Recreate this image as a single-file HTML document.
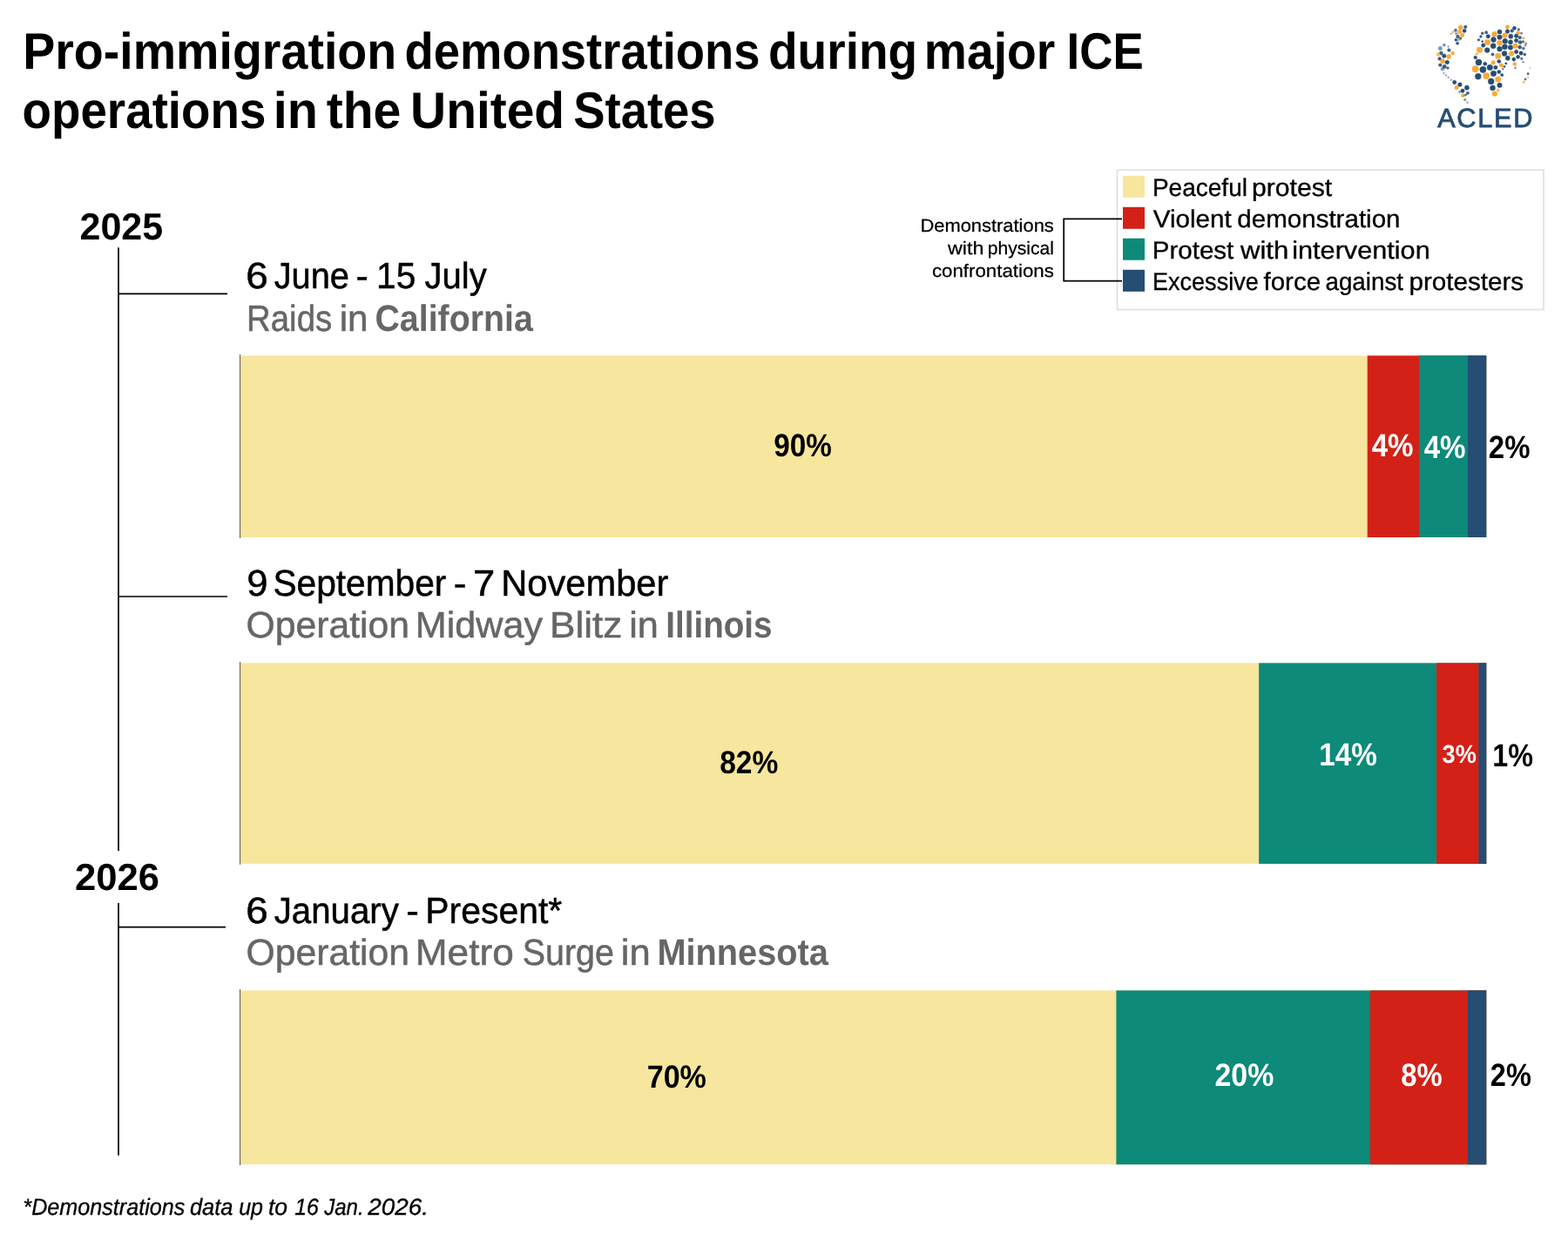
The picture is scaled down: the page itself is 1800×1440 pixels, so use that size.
<!DOCTYPE html>
<html lang="en">
<head>
<meta charset="utf-8">
<title>Pro-immigration demonstrations during major ICE operations in the United States</title>
<style>
html,body{margin:0;padding:0;background:#fff;}
body{width:1800px;height:1440px;position:relative;overflow:hidden;font-family:"Liberation Sans",sans-serif;color:#000;text-rendering:geometricPrecision;}
.t{position:absolute;white-space:nowrap;transform-origin:0 0;margin:0;}
.ln{position:absolute;left:0;width:1800px;white-space:nowrap;}
.ln .t{top:0;}
.r{position:absolute;}
svg{position:absolute;left:0;top:0;}
</style>
</head>
<body>
<svg width="1800" height="1440" viewBox="0 0 1800 1440" fill="none">
<!-- stacked bars -->
<rect x="276.0" y="408.4" width="1430.2" height="208.6" fill="#f7e69d"/>
<rect x="1569.7" y="408.4" width="136.5" height="208.6" fill="#d32118"/>
<rect x="1628.9" y="408.4" width="77.3" height="208.6" fill="#0d8a79"/>
<rect x="1685.0" y="408.4" width="21.2" height="208.6" fill="#264d73"/>
<rect x="276.0" y="761.4" width="1430.2" height="230.5" fill="#f7e69d"/>
<rect x="1445.1" y="761.4" width="261.1" height="230.5" fill="#0d8a79"/>
<rect x="1649.0" y="761.4" width="57.2" height="230.5" fill="#d32118"/>
<rect x="1697.4" y="761.4" width="8.8" height="230.5" fill="#264d73"/>
<rect x="276.0" y="1137.4" width="1430.2" height="199.8" fill="#f7e69d"/>
<rect x="1281.4" y="1137.4" width="424.8" height="199.8" fill="#0d8a79"/>
<rect x="1572.9" y="1137.4" width="133.3" height="199.8" fill="#d32118"/>
<rect x="1684.9" y="1137.4" width="21.3" height="199.8" fill="#264d73"/>
<!-- legend box and swatches -->
<rect x="1282.6" y="195.2" width="489.4" height="160.3" stroke="#e2e2e2" stroke-width="1.8"/>
<rect x="1289" y="201.8" width="25" height="25" fill="#f7e69d"/>
<rect x="1289" y="237.8" width="25" height="25" fill="#d32118"/>
<rect x="1289" y="273.7" width="25" height="25" fill="#0d8a79"/>
<rect x="1289" y="309.8" width="25" height="25" fill="#264d73"/>
<!-- bar axes -->
<g stroke="#555" stroke-width="1">
<line x1="275.6" y1="407.0" x2="275.6" y2="618.0"/>
<line x1="275.6" y1="760.0" x2="275.6" y2="992.9"/>
<line x1="275.6" y1="1136.0" x2="275.6" y2="1338.2"/>
</g>
<!-- timeline and bracket -->
<g stroke="#000" stroke-width="1.7">
<line x1="136" y1="284.3" x2="136" y2="977.3"/>
<line x1="136" y1="1037" x2="136" y2="1326.7"/>
<line x1="136" y1="337.3" x2="261" y2="337.3"/>
<line x1="136" y1="685" x2="261" y2="685"/>
<line x1="136" y1="1064.7" x2="259" y2="1064.7"/>
<polyline points="1288,251.3 1221.2,251.3 1221.2,322.6 1288,322.6"/>
</g>
</svg>
<svg width="1800" height="1440" viewBox="0 0 1800 1440" aria-label="ACLED logo">
<g stroke-width="1" stroke-opacity="0.4">
<circle cx="1676.6" cy="31.6" r="2.58" fill="#f9a938" stroke="#f9a938"/>
<circle cx="1682.2" cy="30.9" r="1.89" fill="#264d73" stroke="#264d73" opacity="0.9"/>
<circle cx="1681.1" cy="35.4" r="2.09" fill="#264d73" stroke="#264d73"/>
<circle cx="1671.0" cy="34.7" r="1.68" fill="#264d73" stroke="#264d73" opacity="0.8"/>
<circle cx="1675.6" cy="36.5" r="2.23" fill="#f9a938" stroke="#f9a938"/>
<circle cx="1667.9" cy="36.8" r="1.19" fill="#f9a938" stroke="#f9a938" opacity="0.9"/>
<circle cx="1665.8" cy="38.9" r="0.84" fill="#264d73" stroke="#264d73" opacity="0.5"/>
<circle cx="1678.7" cy="40.3" r="2.37" fill="#f9a938" stroke="#f9a938"/>
<circle cx="1671.7" cy="38.5" r="1.54" fill="#264d73" stroke="#264d73" opacity="0.5"/>
<circle cx="1673.5" cy="42.0" r="1.89" fill="#264d73" stroke="#264d73" opacity="0.9"/>
<circle cx="1676.6" cy="44.1" r="1.40" fill="#264d73" stroke="#264d73" opacity="0.9"/>
<circle cx="1671.4" cy="45.8" r="1.54" fill="#264d73" stroke="#264d73"/>
<circle cx="1674.5" cy="45.8" r="1.19" fill="#264d73" stroke="#264d73" opacity="0.5"/>
<circle cx="1673.1" cy="49.7" r="1.68" fill="#264d73" stroke="#264d73" opacity="0.9"/>
<circle cx="1657.8" cy="51.7" r="1.68" fill="#264d73" stroke="#264d73" opacity="0.6"/>
<circle cx="1653.3" cy="55.6" r="2.23" fill="#264d73" stroke="#264d73" opacity="0.6"/>
<circle cx="1662.7" cy="53.5" r="1.19" fill="#264d73" stroke="#264d73" opacity="0.4"/>
<circle cx="1663.4" cy="57.6" r="1.89" fill="#264d73" stroke="#264d73" opacity="0.9"/>
<circle cx="1667.6" cy="61.1" r="2.09" fill="#f9a938" stroke="#f9a938"/>
<circle cx="1654.4" cy="61.1" r="2.09" fill="#264d73" stroke="#264d73" opacity="0.9"/>
<circle cx="1650.9" cy="62.5" r="1.89" fill="#f9a938" stroke="#f9a938" opacity="0.8"/>
<circle cx="1657.8" cy="64.2" r="2.23" fill="#264d73" stroke="#264d73"/>
<circle cx="1663.1" cy="64.9" r="2.58" fill="#f9a938" stroke="#f9a938"/>
<circle cx="1652.6" cy="67.4" r="1.89" fill="#264d73" stroke="#264d73" opacity="0.9"/>
<circle cx="1656.1" cy="70.1" r="2.58" fill="#f9a938" stroke="#f9a938"/>
<circle cx="1661.3" cy="71.5" r="2.37" fill="#264d73" stroke="#264d73"/>
<circle cx="1653.3" cy="74.7" r="1.89" fill="#264d73" stroke="#264d73" opacity="0.9"/>
<circle cx="1658.2" cy="76.4" r="2.23" fill="#264d73" stroke="#264d73" opacity="0.9"/>
<circle cx="1662.0" cy="78.1" r="1.40" fill="#264d73" stroke="#264d73" opacity="0.9"/>
<circle cx="1655.8" cy="79.2" r="1.89" fill="#264d73" stroke="#264d73" opacity="0.6"/>
<circle cx="1657.5" cy="84.0" r="0.98" fill="#264d73" stroke="#264d73" opacity="0.5"/>
<circle cx="1659.9" cy="86.5" r="0.98" fill="#264d73" stroke="#264d73" opacity="0.5"/>
<circle cx="1662.7" cy="88.9" r="0.98" fill="#264d73" stroke="#264d73" opacity="0.5"/>
<circle cx="1665.8" cy="91.7" r="0.98" fill="#264d73" stroke="#264d73" opacity="0.5"/>
<circle cx="1669.7" cy="94.4" r="2.23" fill="#264d73" stroke="#264d73"/>
<circle cx="1675.9" cy="97.2" r="2.37" fill="#264d73" stroke="#264d73"/>
<circle cx="1672.1" cy="100.7" r="2.37" fill="#f9a938" stroke="#f9a938"/>
<circle cx="1683.9" cy="100.7" r="2.58" fill="#264d73" stroke="#264d73"/>
<circle cx="1679.0" cy="104.2" r="2.23" fill="#264d73" stroke="#264d73"/>
<circle cx="1684.9" cy="106.9" r="1.68" fill="#264d73" stroke="#264d73" opacity="0.9"/>
<circle cx="1675.6" cy="105.6" r="1.19" fill="#264d73" stroke="#264d73" opacity="0.6"/>
<circle cx="1679.4" cy="109.7" r="2.09" fill="#f9a938" stroke="#f9a938"/>
<circle cx="1682.5" cy="109.0" r="1.19" fill="#264d73" stroke="#264d73" opacity="0.8"/>
<circle cx="1681.8" cy="114.6" r="1.40" fill="#264d73" stroke="#264d73" opacity="0.6"/>
<circle cx="1684.6" cy="117.7" r="1.19" fill="#264d73" stroke="#264d73" opacity="0.4"/>
<circle cx="1730.5" cy="30.9" r="2.23" fill="#f9a938" stroke="#f9a938"/>
<circle cx="1738.5" cy="32.3" r="2.09" fill="#264d73" stroke="#264d73"/>
<circle cx="1743.3" cy="34.0" r="1.40" fill="#264d73" stroke="#264d73" opacity="0.8"/>
<circle cx="1706.2" cy="37.2" r="1.68" fill="#264d73" stroke="#264d73" opacity="0.9"/>
<circle cx="1701.7" cy="38.2" r="1.54" fill="#264d73" stroke="#264d73" opacity="0.9"/>
<circle cx="1721.5" cy="36.5" r="2.58" fill="#264d73" stroke="#264d73"/>
<circle cx="1730.5" cy="36.1" r="2.37" fill="#264d73" stroke="#264d73"/>
<circle cx="1735.7" cy="35.4" r="1.89" fill="#264d73" stroke="#264d73" opacity="0.9"/>
<circle cx="1742.6" cy="37.8" r="2.09" fill="#f9a938" stroke="#f9a938"/>
<circle cx="1746.5" cy="38.2" r="1.19" fill="#264d73" stroke="#264d73" opacity="0.7"/>
<circle cx="1715.6" cy="39.2" r="3.07" fill="#f9a938" stroke="#f9a938"/>
<circle cx="1727.4" cy="40.6" r="2.93" fill="#f9a938" stroke="#f9a938"/>
<circle cx="1708.3" cy="41.7" r="2.23" fill="#264d73" stroke="#264d73"/>
<circle cx="1699.9" cy="42.0" r="1.40" fill="#264d73" stroke="#264d73" opacity="0.9"/>
<circle cx="1721.5" cy="42.7" r="2.79" fill="#264d73" stroke="#264d73"/>
<circle cx="1734.3" cy="41.7" r="2.58" fill="#264d73" stroke="#264d73"/>
<circle cx="1740.6" cy="41.3" r="2.23" fill="#264d73" stroke="#264d73"/>
<circle cx="1744.7" cy="43.1" r="1.89" fill="#264d73" stroke="#264d73" opacity="0.9"/>
<circle cx="1748.9" cy="43.8" r="1.40" fill="#f9a938" stroke="#f9a938" opacity="0.9"/>
<circle cx="1697.5" cy="45.8" r="1.40" fill="#264d73" stroke="#264d73" opacity="0.9"/>
<circle cx="1701.7" cy="47.6" r="1.19" fill="#264d73" stroke="#264d73" opacity="0.9"/>
<circle cx="1714.5" cy="45.5" r="2.93" fill="#264d73" stroke="#264d73"/>
<circle cx="1707.6" cy="48.6" r="3.27" fill="#f9a938" stroke="#f9a938"/>
<circle cx="1727.7" cy="47.2" r="2.93" fill="#264d73" stroke="#264d73"/>
<circle cx="1721.5" cy="49.3" r="3.07" fill="#f9a938" stroke="#f9a938"/>
<circle cx="1734.0" cy="48.3" r="2.58" fill="#264d73" stroke="#264d73"/>
<circle cx="1740.6" cy="46.5" r="2.23" fill="#264d73" stroke="#264d73"/>
<circle cx="1745.1" cy="48.6" r="2.09" fill="#264d73" stroke="#264d73" opacity="0.9"/>
<circle cx="1748.5" cy="47.9" r="1.40" fill="#264d73" stroke="#264d73" opacity="0.8"/>
<circle cx="1751.7" cy="50.0" r="1.19" fill="#264d73" stroke="#264d73" opacity="0.6"/>
<circle cx="1702.7" cy="52.1" r="2.23" fill="#264d73" stroke="#264d73"/>
<circle cx="1714.2" cy="52.8" r="3.07" fill="#264d73" stroke="#264d73"/>
<circle cx="1727.4" cy="53.8" r="3.07" fill="#264d73" stroke="#264d73"/>
<circle cx="1734.0" cy="54.5" r="2.79" fill="#264d73" stroke="#264d73"/>
<circle cx="1739.5" cy="52.8" r="2.93" fill="#f9a938" stroke="#f9a938"/>
<circle cx="1744.7" cy="54.2" r="2.09" fill="#264d73" stroke="#264d73" opacity="0.9"/>
<circle cx="1748.9" cy="55.6" r="1.54" fill="#264d73" stroke="#264d73" opacity="0.8"/>
<circle cx="1751.0" cy="52.1" r="1.19" fill="#264d73" stroke="#264d73" opacity="0.6"/>
<circle cx="1698.5" cy="57.3" r="3.27" fill="#f9a938" stroke="#f9a938"/>
<circle cx="1707.2" cy="57.6" r="2.93" fill="#264d73" stroke="#264d73"/>
<circle cx="1721.5" cy="56.2" r="2.93" fill="#264d73" stroke="#264d73"/>
<circle cx="1727.0" cy="61.5" r="2.93" fill="#264d73" stroke="#264d73"/>
<circle cx="1735.0" cy="61.5" r="2.93" fill="#f9a938" stroke="#f9a938"/>
<circle cx="1740.6" cy="59.4" r="2.23" fill="#264d73" stroke="#264d73"/>
<circle cx="1746.1" cy="61.1" r="2.23" fill="#264d73" stroke="#264d73"/>
<circle cx="1750.3" cy="62.5" r="1.54" fill="#264d73" stroke="#264d73" opacity="0.9"/>
<circle cx="1695.4" cy="61.8" r="1.40" fill="#f9a938" stroke="#f9a938" opacity="0.9"/>
<circle cx="1713.5" cy="62.5" r="1.68" fill="#264d73" stroke="#264d73" opacity="0.9"/>
<circle cx="1719.7" cy="64.2" r="3.27" fill="#f9a938" stroke="#f9a938"/>
<circle cx="1693.7" cy="66.0" r="1.89" fill="#264d73" stroke="#264d73"/>
<circle cx="1730.8" cy="66.7" r="2.58" fill="#264d73" stroke="#264d73"/>
<circle cx="1737.8" cy="68.1" r="2.09" fill="#264d73" stroke="#264d73"/>
<circle cx="1742.6" cy="65.3" r="2.09" fill="#264d73" stroke="#264d73"/>
<circle cx="1746.8" cy="67.4" r="1.40" fill="#264d73" stroke="#264d73" opacity="0.8"/>
<circle cx="1697.5" cy="71.5" r="3.62" fill="#264d73" stroke="#264d73"/>
<circle cx="1720.8" cy="70.5" r="2.09" fill="#264d73" stroke="#264d73"/>
<circle cx="1714.2" cy="71.9" r="2.37" fill="#f9a938" stroke="#f9a938"/>
<circle cx="1704.8" cy="73.3" r="2.09" fill="#264d73" stroke="#264d73"/>
<circle cx="1728.8" cy="72.9" r="1.19" fill="#264d73" stroke="#264d73"/>
<circle cx="1748.5" cy="71.2" r="0.98" fill="#264d73" stroke="#264d73" opacity="0.7"/>
<circle cx="1738.8" cy="73.6" r="2.09" fill="#f9a938" stroke="#f9a938"/>
<circle cx="1723.5" cy="75.0" r="2.23" fill="#f9a938" stroke="#f9a938"/>
<circle cx="1727.0" cy="76.4" r="1.19" fill="#264d73" stroke="#264d73" opacity="0.9"/>
<circle cx="1710.3" cy="77.4" r="3.27" fill="#264d73" stroke="#264d73"/>
<circle cx="1716.9" cy="77.4" r="2.23" fill="#264d73" stroke="#264d73"/>
<circle cx="1693.7" cy="79.2" r="3.76" fill="#f9a938" stroke="#f9a938"/>
<circle cx="1702.4" cy="79.9" r="3.62" fill="#264d73" stroke="#264d73"/>
<circle cx="1739.5" cy="78.1" r="0.98" fill="#264d73" stroke="#264d73" opacity="0.7"/>
<circle cx="1725.3" cy="79.2" r="0.98" fill="#264d73" stroke="#264d73" opacity="0.8"/>
<circle cx="1720.8" cy="82.6" r="2.09" fill="#264d73" stroke="#264d73"/>
<circle cx="1714.5" cy="84.4" r="3.27" fill="#264d73" stroke="#264d73"/>
<circle cx="1724.2" cy="86.1" r="1.68" fill="#264d73" stroke="#264d73"/>
<circle cx="1696.8" cy="87.8" r="3.48" fill="#264d73" stroke="#264d73"/>
<circle cx="1706.2" cy="87.2" r="3.62" fill="#f9a938" stroke="#f9a938"/>
<circle cx="1719.7" cy="91.0" r="3.27" fill="#f9a938" stroke="#f9a938"/>
<circle cx="1711.7" cy="93.4" r="3.48" fill="#264d73" stroke="#264d73"/>
<circle cx="1721.5" cy="97.9" r="2.79" fill="#264d73" stroke="#264d73"/>
<circle cx="1713.5" cy="101.0" r="3.07" fill="#264d73" stroke="#264d73"/>
<circle cx="1719.7" cy="103.5" r="1.54" fill="#f9a938" stroke="#f9a938" opacity="0.9"/>
<circle cx="1715.9" cy="107.6" r="2.93" fill="#f9a938" stroke="#f9a938"/>
<circle cx="1756.5" cy="78.1" r="0.98" fill="#f9a938" stroke="#f9a938" opacity="0.6"/>
<circle cx="1754.1" cy="84.7" r="1.19" fill="#264d73" stroke="#264d73" opacity="0.9"/>
<circle cx="1754.1" cy="88.9" r="0.98" fill="#f9a938" stroke="#f9a938" opacity="0.8"/>
<circle cx="1751.0" cy="91.0" r="1.19" fill="#264d73" stroke="#264d73" opacity="0.8"/>
<circle cx="1749.2" cy="94.4" r="1.19" fill="#f9a938" stroke="#f9a938" opacity="0.9"/>
</g>
</svg>
<div class="ln" style="top:24.09px;font-size:58.95px;line-height:71px;font-weight:700;"><span class="t" style="left:26px;transform:translateX(0.19px) scaleX(0.9425);">Pro-immigration</span> <span class="t" style="left:464px;transform:translateX(0.62px) scaleX(0.9227);">demonstrations</span> <span class="t" style="left:881px;transform:translateX(1.00px) scaleX(0.9337);">during</span> <span class="t" style="left:1060px;transform:translateX(0.81px) scaleX(0.9376);">major</span> <span class="t" style="left:1224px;transform:translateX(0.57px) scaleX(0.8964);">ICE</span></div>
<div class="ln" style="top:92.39px;font-size:58.95px;line-height:71px;font-weight:700;"><span class="t" style="left:25px;transform:translateX(0.51px) scaleX(0.9291);">operations</span> <span class="t" style="left:313px;transform:translateX(0.67px) scaleX(0.9774);">in</span> <span class="t" style="left:374px;transform:translateX(0.73px) scaleX(0.9688);">the</span> <span class="t" style="left:471px;transform:translateX(0.08px) scaleX(0.9655);">United</span> <span class="t" style="left:658px;transform:translateX(0.17px) scaleX(0.9240);">States</span></div>
<div class="t" style="left:91px;top:235.31px;font-size:43.29px;line-height:52px;font-weight:700;transform:translateX(0.49px) scaleX(0.9946);">2025</div>
<div class="t" style="left:86px;top:982.41px;font-size:43.29px;line-height:52px;font-weight:700;transform:translateX(0.07px) scaleX(1.0076);">2026</div>
<div class="ln" style="top:290.90px;font-size:42.16px;line-height:51px;-webkit-text-stroke:0.012em #000;"><span class="t" style="left:282px;transform:translateX(0.19px) scaleX(1.0855);">6</span> <span class="t" style="left:314px;transform:translateX(0.64px) scaleX(0.9445);">June</span> <span class="t" style="left:408px;transform:translateX(0.53px) scaleX(1.0152);">-</span> <span class="t" style="left:432px;transform:translateX(0.10px) scaleX(0.9634);">15</span> <span class="t" style="left:487px;transform:translateX(0.44px) scaleX(0.9504);">July</span></div>
<div class="ln" style="top:339.60px;font-size:42.16px;line-height:51px;color:#666666;-webkit-text-stroke:0.012em #666666;"><span class="t" style="left:283px;transform:translateX(0.06px) scaleX(0.9103);">Raids</span> <span class="t" style="left:389px;transform:translateX(0.70px) scaleX(1.0032);">in</span></div>
<div class="t" style="left:430px;top:341.47px;font-size:42.53px;line-height:51px;font-weight:700;color:#666666;transform:translateX(0.43px) scaleX(0.9251);">California</div>
<div class="ln" style="top:643.60px;font-size:42.16px;line-height:51px;-webkit-text-stroke:0.012em #000;"><span class="t" style="left:283px;transform:translateX(0.30px) scaleX(1.0343);">9</span> <span class="t" style="left:313px;transform:translateX(0.41px) scaleX(0.9650);">September</span> <span class="t" style="left:520px;transform:translateX(0.79px) scaleX(1.0429);">-</span> <span class="t" style="left:543px;transform:translateX(0.10px) scaleX(1.0768);">7</span> <span class="t" style="left:575px;transform:translateX(0.22px) scaleX(0.9882);">November</span></div>
<div class="ln" style="top:691.70px;font-size:42.16px;line-height:51px;color:#666666;-webkit-text-stroke:0.012em #666666;"><span class="t" style="left:282px;transform:translateX(0.53px) scaleX(1.0130);">Operation</span> <span class="t" style="left:476px;transform:translateX(0.81px) scaleX(1.0226);">Midway</span> <span class="t" style="left:630px;transform:translateX(0.93px) scaleX(1.0481);">Blitz</span> <span class="t" style="left:722px;transform:translateX(0.14px) scaleX(1.0283);">in</span></div>
<div class="t" style="left:764px;top:692.57px;font-size:42.53px;line-height:51px;font-weight:700;color:#666666;transform:translateX(0.19px) scaleX(0.9090);">Illinois</div>
<div class="ln" style="top:1019.90px;font-size:42.16px;line-height:51px;-webkit-text-stroke:0.012em #000;"><span class="t" style="left:282px;transform:translateX(0.19px) scaleX(1.0855);">6</span> <span class="t" style="left:314px;transform:translateX(0.64px) scaleX(0.9549);">January</span> <span class="t" style="left:466px;transform:translateX(0.30px) scaleX(1.0337);">-</span> <span class="t" style="left:488px;transform:translateX(0.27px) scaleX(0.9704);">Present*</span></div>
<div class="ln" style="top:1068.40px;font-size:42.16px;line-height:51px;color:#666666;-webkit-text-stroke:0.012em #666666;"><span class="t" style="left:282px;transform:translateX(0.53px) scaleX(1.0130);">Operation</span> <span class="t" style="left:476px;transform:translateX(0.73px) scaleX(1.0488);">Metro</span> <span class="t" style="left:599px;transform:translateX(0.77px) scaleX(0.9334);">Surge</span> <span class="t" style="left:712px;transform:translateX(0.72px) scaleX(1.0355);">in</span></div>
<div class="t" style="left:754px;top:1069.27px;font-size:42.53px;line-height:51px;font-weight:700;color:#666666;transform:translateX(0.42px) scaleX(0.9347);">Minnesota</div>
<div class="t" style="left:888px;top:490.44px;font-size:36.86px;line-height:44px;font-weight:700;transform:translateX(0.24px) scaleX(0.9020);">90%</div>
<div class="t" style="left:1574px;top:490.14px;font-size:36.86px;line-height:44px;font-weight:700;color:#fff;transform:translateX(0.70px) scaleX(0.8979);">4%</div>
<div class="t" style="left:1634px;top:491.74px;font-size:36.86px;line-height:44px;font-weight:700;color:#fff;transform:translateX(0.70px) scaleX(0.8979);">4%</div>
<div class="t" style="left:1708px;top:491.84px;font-size:36.86px;line-height:44px;font-weight:700;transform:translateX(0.85px) scaleX(0.8932);">2%</div>
<div class="t" style="left:826px;top:853.74px;font-size:36.86px;line-height:44px;font-weight:700;transform:translateX(0.19px) scaleX(0.9108);">82%</div>
<div class="t" style="left:1514px;top:845.04px;font-size:36.86px;line-height:44px;font-weight:700;color:#fff;transform:translateX(0.34px) scaleX(0.9020);">14%</div>
<div class="t" style="left:1655px;top:848.61px;font-size:29.43px;line-height:35px;font-weight:700;color:#fff;transform:translateX(0.62px) scaleX(0.9232);">3%</div>
<div class="t" style="left:1713px;top:845.54px;font-size:36.86px;line-height:44px;font-weight:700;transform:translateX(0.20px) scaleX(0.8770);">1%</div>
<div class="t" style="left:742px;top:1215.44px;font-size:36.86px;line-height:44px;font-weight:700;transform:translateX(0.67px) scaleX(0.9249);">70%</div>
<div class="t" style="left:1394px;top:1213.14px;font-size:36.86px;line-height:44px;font-weight:700;color:#fff;transform:translateX(0.51px) scaleX(0.9188);">20%</div>
<div class="t" style="left:1608px;top:1213.14px;font-size:36.86px;line-height:44px;font-weight:700;color:#fff;transform:translateX(0.22px) scaleX(0.8900);">8%</div>
<div class="t" style="left:1710px;top:1213.14px;font-size:36.86px;line-height:44px;font-weight:700;transform:translateX(0.86px) scaleX(0.8815);">2%</div>
<div class="ln" style="top:198.82px;font-size:28.53px;line-height:34px;-webkit-text-stroke:0.012em #000;"><span class="t" style="left:1322px;transform:translateX(0.93px) scaleX(0.9824);">Peaceful</span> <span class="t" style="left:1436px;transform:translateX(0.92px) scaleX(1.0584);">protest</span></div>
<div class="ln" style="top:234.92px;font-size:28.53px;line-height:34px;-webkit-text-stroke:0.012em #000;"><span class="t" style="left:1323px;transform:translateX(0.73px) scaleX(1.0387);">Violent</span> <span class="t" style="left:1420px;transform:translateX(0.30px) scaleX(1.0360);">demonstration</span></div>
<div class="ln" style="top:270.82px;font-size:28.53px;line-height:34px;-webkit-text-stroke:0.012em #000;"><span class="t" style="left:1322px;transform:translateX(0.81px) scaleX(1.0350);">Protest</span> <span class="t" style="left:1423px;transform:translateX(0.89px) scaleX(1.0919);">with</span> <span class="t" style="left:1483px;transform:translateX(0.19px) scaleX(1.0754);">intervention</span></div>
<div class="ln" style="top:307.02px;font-size:28.53px;line-height:34px;-webkit-text-stroke:0.012em #000;"><span class="t" style="left:1322px;transform:translateX(1.00px) scaleX(0.9484);">Excessive</span> <span class="t" style="left:1450px;transform:translateX(0.53px) scaleX(1.0337);">force</span> <span class="t" style="left:1521px;transform:translateX(0.42px) scaleX(0.9749);">against</span> <span class="t" style="left:1617px;transform:translateX(0.45px) scaleX(1.0386);">protesters</span></div>
<div class="t" style="left:1056px;top:247.47px;font-size:20.87px;line-height:25px;-webkit-text-stroke:0.012em #000;transform:translateX(0.38px) scaleX(1.0504);">Demonstrations</div>
<div class="ln" style="top:272.87px;font-size:20.87px;line-height:25px;-webkit-text-stroke:0.012em #000;"><span class="t" style="left:1087px;transform:translateX(0.94px) scaleX(1.1154);">with</span> <span class="t" style="left:1133px;transform:translateX(0.76px) scaleX(1.0099);">physical</span></div>
<div class="t" style="left:1069px;top:299.47px;font-size:20.87px;line-height:25px;-webkit-text-stroke:0.012em #000;transform:translateX(0.93px) scaleX(1.0675);">confrontations</div>
<div class="ln" style="top:1369.65px;font-size:26.72px;line-height:32px;font-style:italic;-webkit-text-stroke:0.012em #000;"><span class="t" style="left:26px;transform:translateX(0.34px) scaleX(0.9420);">*Demonstrations</span> <span class="t" style="left:217px;transform:translateX(0.96px) scaleX(0.9520);">data</span> <span class="t" style="left:274px;transform:translateX(0.15px) scaleX(0.9356);">up</span> <span class="t" style="left:307px;transform:translateX(0.97px) scaleX(0.9905);">to</span> <span class="t" style="left:338px;transform:translateX(0.23px) scaleX(0.9314);">16</span> <span class="t" style="left:372px;transform:translateX(0.14px) scaleX(0.8993);">Jan.</span> <span class="t" style="left:422px;transform:translateX(0.31px) scaleX(1.0414);">2026.</span></div>
<div class="t" style="left:1650px;top:117.37px;font-size:30.69px;line-height:37px;color:#264d73;-webkit-text-stroke:0.8px #264d73;letter-spacing:1.71px;transform:translateX(0.15px);">ACLED</div>
</body>
</html>
